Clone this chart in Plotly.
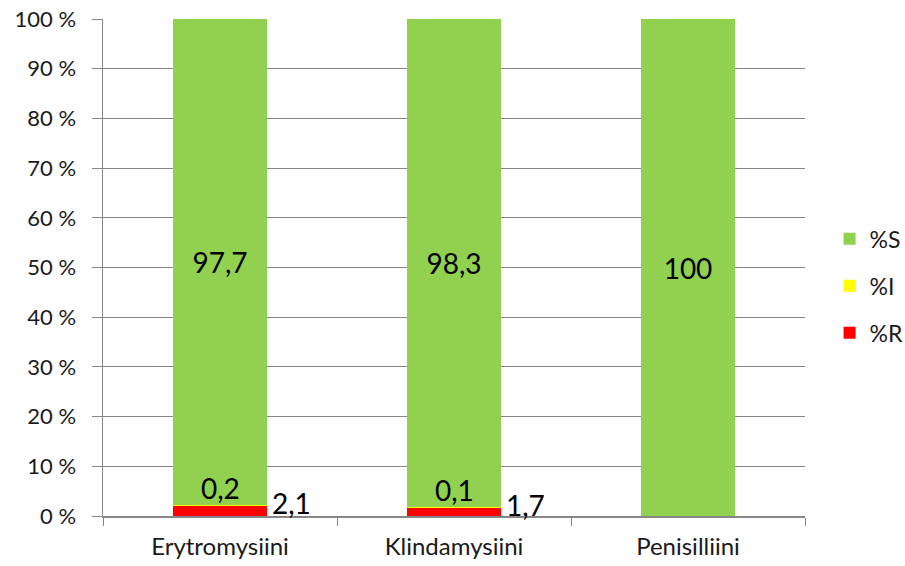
import plotly.graph_objects as go

categories = ["Erytromysiini", "Klindamysiini", "Penisilliini"]
pct_S = [97.7, 98.3, 100]
pct_I = [0.2, 0.1, 0]
pct_R = [2.1, 1.7, 0]
colors = {"%S": "#92D050", "%I": "#FFFF00", "%R": "#FF0000"}
ytick_vals = list(range(0, 101, 10))
ytick_text = ["%d %%" % v for v in ytick_vals]

def fmt(v):
    return ("%g" % v).replace(".", ",")

FONT = "Lato, Liberation Sans, sans-serif"
TXT = "#1a1a1a"

fig = go.Figure()
fig.add_trace(go.Bar(x=categories, y=pct_R, name="%R", marker_color=colors["%R"],
                     legendgroup="R", legendrank=3, marker_line_width=0, hoverinfo="skip"))
fig.add_trace(go.Bar(x=categories, y=pct_I, name="%I", marker_color=colors["%I"],
                     legendgroup="I", legendrank=2, marker_line_width=0, hoverinfo="skip"))
fig.add_trace(go.Bar(x=categories, y=pct_S, name="%S", marker_color=colors["%S"],
                     legendgroup="S", legendrank=1, marker_line_width=0,
                     text=[fmt(v) for v in pct_S], textposition="inside",
                     insidetextanchor="middle", textangle=0,
                     textfont=dict(size=28, color="#000000", family=FONT),
                     hoverinfo="skip"))

for c, r, i in zip(categories, pct_R, pct_I):
    if i > 0:
        fig.add_annotation(x=c, y=r + i, xref="x", yref="y", text=fmt(i),
                           showarrow=False, yanchor="bottom", xanchor="center",
                           yshift=-2, font=dict(size=28, color="#000000", family=FONT))
    if r > 0:
        fig.add_annotation(x=c, y=r, xref="x", yref="y", text=fmt(r),
                           showarrow=False, yanchor="middle", xanchor="left",
                           xshift=50, yshift=3, font=dict(size=28, color="#000000", family=FONT))

fig.update_layout(
    barmode="stack",
    bargap=0.6,
    width=905, height=566,
    margin=dict(l=103, r=100, t=19, b=50, autoexpand=False),
    plot_bgcolor="white", paper_bgcolor="white",
    font=dict(family=FONT, size=22, color=TXT),
    showlegend=True,
    legend=dict(x=1.035, y=0.463, xanchor="left", yanchor="middle",
                traceorder="grouped", tracegroupgap=14,
                font=dict(size=23, color=TXT), itemwidth=30),
)
fig.update_xaxes(showline=True, linecolor="#868686", linewidth=1.5,
                 ticks="outside", tickson="boundaries", ticklen=8,
                 tickcolor="#868686", showgrid=False, automargin=False,
                 ticklabeloverflow="allow", ticklabelstandoff=9,
                 tickfont=dict(size=24, color=TXT))
fig.update_yaxes(range=[0, 100], tickvals=ytick_vals, ticktext=ytick_text,
                 showline=True, linecolor="#868686", linewidth=1.5,
                 ticks="outside", ticklen=10, tickcolor="#868686",
                 showgrid=True, gridcolor="#868686", gridwidth=1.2,
                 zeroline=False, automargin=False, ticklabeloverflow="allow",
                 ticklabelstandoff=11,
                 tickfont=dict(size=22, color=TXT))

fig.write_html("out.html", config={"displayModeBar": False, "staticPlot": True},
               post_script="document.body.style.margin='0';document.body.style.overflow='hidden';")
